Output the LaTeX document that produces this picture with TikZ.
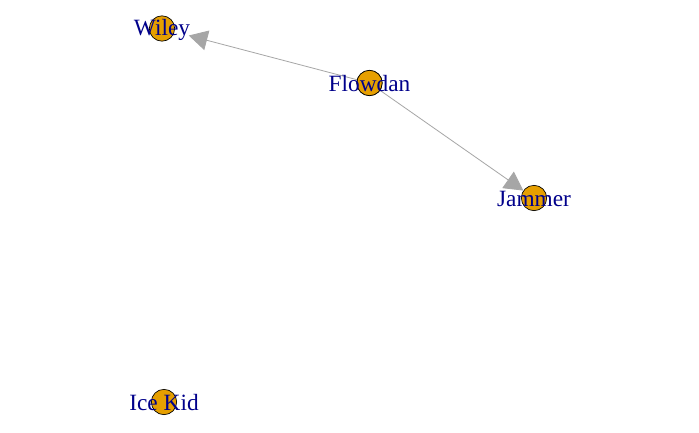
\documentclass[tikz,border=0pt]{standalone}
\usepackage{fontspec}
\setmainfont{Liberation Serif}
\usetikzlibrary{arrows.meta}
\definecolor{vfill}{HTML}{E69F00}
\definecolor{lblue}{RGB}{0,0,139}
\definecolor{egray}{HTML}{A6A6A6}
\tikzset{
  vert/.style={circle, draw=black, line width=0.5pt, fill=vfill, minimum size=19pt, inner sep=0pt},
  vlabel/.style={text=lblue, font=\fontsize{17.5}{20}\selectfont, inner sep=0pt, anchor=center},
  edge/.style={draw=egray, line width=0.6pt, -{Triangle[length=14pt, width=15pt]}}
}
\begin{document}
\begin{tikzpicture}[x=0.75pt, y=-0.75pt]
\useasboundingbox[fill=white] (0,0) rectangle (699,432);
\node[vert] (wi) at (162,28.5) {};
\node[vert] (fl) at (369.5,83) {};
\node[vert] (ja) at (534,198) {};
\node[vert] (ik) at (164,402) {};
\path[edge, shorten >=11pt] (fl.center) -- (wi);
\path[edge, shorten >=0pt] (fl.center) -- (ja);
\node[vert] at (fl) {};
\node[vlabel] (lwi) at (162,29.5) {Wiley};
\node[vlabel] (lfl) at (369.5,84) {Flowdan};
\node[vlabel] (lja) at (534,199) {Jammer};
\node[vlabel] (lik) at (164,403) {Ice Kid};
\end{tikzpicture}
\end{document}
